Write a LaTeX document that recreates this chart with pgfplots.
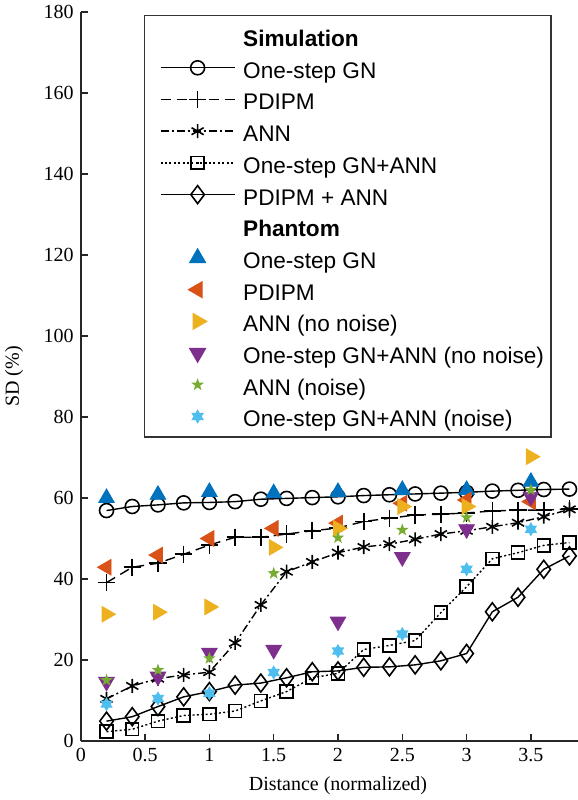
\documentclass[border=0pt]{standalone}
\usepackage{fontspec}
\setmainfont{Liberation Serif}
\newfontfamily\legfont{Liberation Sans}
\usepackage{pgfplots}
\pgfplotsset{compat=1.18}

% MATLAB default colours
\definecolor{mblue}{rgb}{0,0.447,0.741}
\definecolor{mred}{rgb}{0.85,0.325,0.098}
\definecolor{myellow}{rgb}{0.929,0.694,0.125}
\definecolor{mpurple}{rgb}{0.494,0.184,0.556}
\definecolor{mgreen}{rgb}{0.466,0.674,0.188}
\definecolor{mcyan}{rgb}{0.301,0.745,0.933}
\definecolor{axgray}{rgb}{0.15,0.15,0.15}

% filled five-point star
\pgfdeclareplotmark{pentastar*}{%
  \pgfpathmoveto{\pgfpointpolar{90}{\pgfplotmarksize}}%
  \pgfpathlineto{\pgfpointpolar{126}{0.4\pgfplotmarksize}}%
  \pgfpathlineto{\pgfpointpolar{162}{\pgfplotmarksize}}%
  \pgfpathlineto{\pgfpointpolar{198}{0.4\pgfplotmarksize}}%
  \pgfpathlineto{\pgfpointpolar{234}{\pgfplotmarksize}}%
  \pgfpathlineto{\pgfpointpolar{270}{0.4\pgfplotmarksize}}%
  \pgfpathlineto{\pgfpointpolar{306}{\pgfplotmarksize}}%
  \pgfpathlineto{\pgfpointpolar{342}{0.4\pgfplotmarksize}}%
  \pgfpathlineto{\pgfpointpolar{18}{\pgfplotmarksize}}%
  \pgfpathlineto{\pgfpointpolar{54}{0.4\pgfplotmarksize}}%
  \pgfpathclose\pgfusepathqfill}
% filled six-point star
\pgfdeclareplotmark{hexstar*}{%
  \pgfpathmoveto{\pgfpointpolar{90}{\pgfplotmarksize}}%
  \pgfpathlineto{\pgfpointpolar{210}{\pgfplotmarksize}}%
  \pgfpathlineto{\pgfpointpolar{330}{\pgfplotmarksize}}%
  \pgfpathclose
  \pgfpathmoveto{\pgfpointpolar{270}{\pgfplotmarksize}}%
  \pgfpathlineto{\pgfpointpolar{30}{\pgfplotmarksize}}%
  \pgfpathlineto{\pgfpointpolar{150}{\pgfplotmarksize}}%
  \pgfpathclose\pgfusepathqfill}

\pgfplotsset{
  longlegend/.style={legend image code/.code={%
    \path[draw=none,fill=none] (0pt,0pt) (45.8pt,0pt);
    \draw[mark repeat=2,mark phase=2,##1] plot coordinates {(4.5pt,0pt) (23pt,0pt) (41.5pt,0pt)};}},
  sim/.style={black, line width=0.7pt, mark size=3.5pt, mark options={solid, line width=0.8pt}},
  ph/.style={only marks, longlegend, mark size=#1},
}

\begin{document}
\begin{tikzpicture}
\begin{axis}[
  scale only axis,
  width=257.2pt, height=364.5pt,
  xmin=0, xmax=4, ymin=0, ymax=180,
  xtick={0,0.5,...,3.5}, ytick={0,20,...,180},
  axis lines=left,
  axis line style={-, line width=0.75pt, axgray},
  tick align=inside, major tick length=3.5pt,
  tick style={axgray, line width=0.75pt},
  /pgf/number format/assume math mode=true,
  tick label style={font=\fontsize{10}{12}\selectfont},
  label style={font=\fontsize{10}{12}\selectfont},
  xlabel={Distance (normalized)},
  ylabel={SD (\%)},
  x label style={at={(axis description cs:0.5,0)}, anchor=center, yshift=-22.5pt},
  y label style={at={(axis description cs:-0.1299,0.5)}, anchor=center},
  clip=false,
  longlegend,
  legend cell align=left,
  legend style={at={(axis description cs:0.1229,0.9959)}, anchor=north west,
    font=\legfont\fontsize{11.3}{13}\selectfont,
    draw=black!80, line width=0.6pt,
    inner xsep=3.5pt, inner ysep=5pt, row sep=5.35pt,
    nodes={inner ysep=0pt, inner xsep=0pt, text height=10.5pt, text depth=0pt}},
]
\addlegendimage{empty legend}
\addlegendentry{\textbf{Simulation}}

\addplot[sim, mark=o] coordinates {
  (0.2,56.9) (0.4,57.9) (0.6,58.3) (0.8,58.8) (1.0,58.9) (1.2,59.1) (1.4,59.7)
  (1.6,59.9) (1.8,60.1) (2.0,60.3) (2.2,60.6) (2.4,60.8) (2.6,61.0) (2.8,61.2)
  (3.0,61.4) (3.2,61.7) (3.4,61.9) (3.6,62.1) (3.8,62.2)
};
\addlegendentry{One-step GN}

\addplot[sim, mark=+, dash pattern=on 5pt off 3pt, mark size=4.3pt] coordinates {
  (0.2,39.1) (0.4,42.9) (0.6,43.9) (0.8,46.1) (1.0,48.4) (1.2,50.3) (1.4,50.3)
  (1.6,51.1) (1.8,51.9) (2.0,52.6) (2.2,54.2) (2.4,55.0) (2.6,55.8) (2.8,56.0)
  (3.0,56.3) (3.2,56.8) (3.4,57.0) (3.6,57.0) (3.8,57.3)
};
\addlegendentry{PDIPM}

\addplot[sim, mark=asterisk, dash pattern=on 4pt off 1.5pt on 1pt off 1.5pt] coordinates {
  (0.2,10.4) (0.4,13.6) (0.6,15.4) (0.8,16.3) (1.0,17.0) (1.2,24.2) (1.4,33.6)
  (1.6,41.8) (1.8,44.2) (2.0,46.5) (2.2,47.9) (2.4,48.6) (2.6,49.8) (2.8,51.1)
  (3.0,51.9) (3.2,52.9) (3.4,53.9) (3.6,55.4) (3.8,57.2)
};
\addlegendentry{ANN}

\addplot[sim, mark=square, dash pattern=on 1pt off 1.2pt, mark size=3.2pt] coordinates {
  (0.2,2.3) (0.4,2.9) (0.6,4.9) (0.8,6.3) (1.0,6.6) (1.2,7.4) (1.4,9.9)
  (1.6,12.2) (1.8,15.6) (2.0,16.7) (2.2,22.6) (2.4,23.6) (2.6,24.8) (2.8,31.7)
  (3.0,38.1) (3.2,45.0) (3.4,46.5) (3.6,48.3) (3.8,49.0)
};
\addlegendentry{One-step GN+ANN}

\addplot[sim, mark=diamond, mark size=4.5pt] coordinates {
  (0.2,4.9) (0.4,6.0) (0.6,8.5) (0.8,10.9) (1.0,12.2) (1.2,13.8) (1.4,14.3)
  (1.6,15.6) (1.8,17.1) (2.0,17.3) (2.2,18.2) (2.4,18.3) (2.6,18.8) (2.8,19.8)
  (3.0,21.6) (3.2,31.9) (3.4,35.5) (3.6,42.4) (3.8,45.7)
};
\addlegendentry{PDIPM + ANN}

\addlegendimage{empty legend}
\addlegendentry{\textbf{Phantom}}

\addplot[ph=4.5pt, mark=triangle*, color=mblue] coordinates {
  (0.2,60.0) (0.6,60.8) (1.0,61.5) (1.5,61.2) (2.0,61.5) (2.5,62.0) (3.0,62.0) (3.5,64.0)
};
\addlegendentry{One-step GN}

\addplot[ph=4.5pt, mark=triangle*, mark options={rotate=90}, color=mred] coordinates {
  (0.2,42.9) (0.6,45.9) (1.0,50.0) (1.5,52.5) (2.0,53.8) (2.5,58.7) (3.0,59.5) (3.5,59.1)
};
\addlegendentry{PDIPM}

\addplot[ph=4.5pt, mark=triangle*, mark options={rotate=-90}, color=myellow] coordinates {
  (0.2,31.3) (0.6,31.8) (1.0,33.1) (1.5,47.8) (2.0,52.5) (2.5,57.9) (3.0,57.9) (3.5,70.2)
};
\addlegendentry{ANN (no noise)}

\addplot[ph=4.5pt, mark=triangle*, mark options={rotate=180}, color=mpurple] coordinates {
  (0.2,14.6) (0.6,15.9) (1.0,21.8) (1.5,22.5) (2.0,29.5) (2.5,45.4) (3.0,52.3) (3.5,60.3)
};
\addlegendentry{One-step GN+ANN (no noise)}

\addplot[ph=3.3pt, mark=pentastar*, color=mgreen] coordinates {
  (0.2,15.0) (0.6,17.5) (1.0,20.4) (1.5,41.4) (2.0,50.2) (2.5,52.1) (3.0,55.2) (3.5,62.0)
};
\addlegendentry{ANN (noise)}

\addplot[ph=3.6pt, mark=hexstar*, color=mcyan] coordinates {
  (0.2,9.1) (0.6,10.5) (1.0,11.8) (1.5,16.9) (2.0,22.2) (2.5,26.4) (3.0,42.4) (3.5,52.3)
};
\addlegendentry{One-step GN+ANN (noise)}
\end{axis}
\pgfresetboundingbox
\path[use as bounding box] (-40.4pt,-29.5pt) rectangle (248.6pt,370.5pt);
\end{tikzpicture}
\end{document}
